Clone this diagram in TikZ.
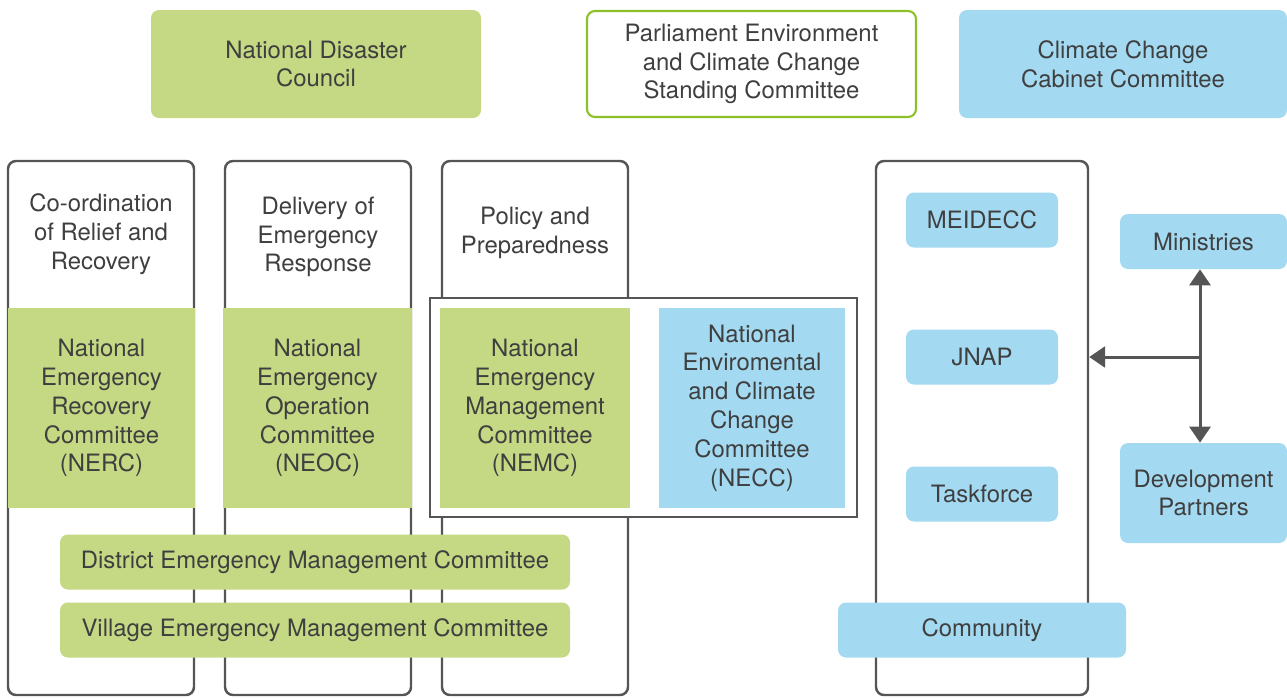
\documentclass[tikz,border=0pt]{standalone}
\usepackage{fontspec}
\setmainfont{TeX Gyre Heros}
\usepackage{xcolor}
\usetikzlibrary{arrows.meta}

\definecolor{leaf}{HTML}{C5D984}
\definecolor{sky}{HTML}{A3DAF2}
\definecolor{edge}{HTML}{555555}
\definecolor{lime}{HTML}{8CC02B}
\definecolor{ink}{HTML}{3F3F3F}

\newlength{\px}
\setlength{\px}{0.02cm}

\begin{document}
\begin{tikzpicture}[x=0.02cm,y=-0.02cm,
  every node/.style={font=\fontsize{13.6}{16.4}\selectfont, text=ink, align=center, inner sep=0pt},
  sz/.style 2 args={minimum width={#1*\px}, minimum height={#2*\px}},
  greenbox/.style={fill=leaf, rounded corners=0.16cm},
  bluebox/.style={fill=sky, rounded corners=0.16cm},
  greenblock/.style={fill=leaf},
  blueblock/.style={fill=sky},
  colframe/.style={draw=edge, line width=1.4pt, fill=white, rounded corners=0.16cm},
  link/.style={draw=edge, line width=1.7pt, {Triangle[width=0.42cm,length=0.32cm]}-{Triangle[width=0.42cm,length=0.32cm]}}]
  \useasboundingbox (0,0) rectangle (1287,697);

  % top row
  \node[greenbox, sz={330}{108}] (ndc) at (316,64) {National Disaster\\Council};
  \node[draw=lime, line width=1.2pt, rounded corners=0.16cm, sz={329}{106}] (parl) at (751.5,64)
    {Parliament Environment\\and Climate Change\\Standing Committee};
  \node[bluebox, sz={328}{108}] (cccc) at (1123,64) {Climate Change\\Cabinet Committee};

  % columns
  \node[colframe, sz={186}{534}] (col1) at (101,428) {};
  \node[colframe, sz={186}{534}] (col2) at (318,428) {};
  \node[colframe, sz={186}{534}] (col3) at (535,428) {};
  \node[colframe, sz={212}{534}] (col4) at (982,428) {};

  \node (head1) at (101,234) {Co-ordination\\of Relief and\\Recovery};
  \node (head2) at (318,237) {Delivery of\\Emergency\\Response};
  \node (head3) at (535,233) {Policy and\\Preparedness};

  % national committees
  \node[draw=edge, line width=1.4pt, fill=white, sz={427}{219}] (nframe) at (643.5,407.5) {};
  \node[greenblock, sz={187}{200}] (nerc) at (101.5,408)
    {National\\Emergency\\Recovery\\Committee\\(NERC)};
  \node[greenblock, sz={189}{200}] (neoc) at (317.5,408)
    {National\\Emergency\\Operation\\Committee\\(NEOC)};
  \node[greenblock, sz={190}{200}] (nemc) at (535,408)
    {National\\Emergency\\Management\\Committee\\(NEMC)};
  \node[blueblock, sz={186}{200}] (necc) at (752,408)
    {National\\Enviromental\\and Climate\\Change\\Committee\\(NECC)};

  % district and village
  \node[greenbox, sz={510}{55}] (demc) at (315,562) {District Emergency Management Committee};
  \node[greenbox, sz={510}{55}] (vemc) at (315,630) {Village Emergency Management Committee};

  % climate side
  \node[bluebox, sz={152}{55}] (meidecc) at (982,220) {MEIDECC};
  \node[bluebox, sz={152}{55}] (jnap) at (982,357) {JNAP};
  \node[bluebox, sz={152}{55}] (task) at (982,494) {Taskforce};
  \node[bluebox, sz={288}{55}] (comm) at (982,630) {Community};
  \node[bluebox, sz={167}{55}] (mins) at (1203.5,241.5) {Ministries};
  \node[bluebox, sz={167}{100}] (devp) at (1203.5,493) {Development\\Partners};

  % arrows
  \coordinate (hub) at (1200,357);
  \draw[link] (mins.south -| hub) -- (devp.north -| hub);
  \draw[link, {Triangle[width=0.42cm,length=0.32cm]}-] (hub -| col4.east) -- (hub);
\end{tikzpicture}
\end{document}
